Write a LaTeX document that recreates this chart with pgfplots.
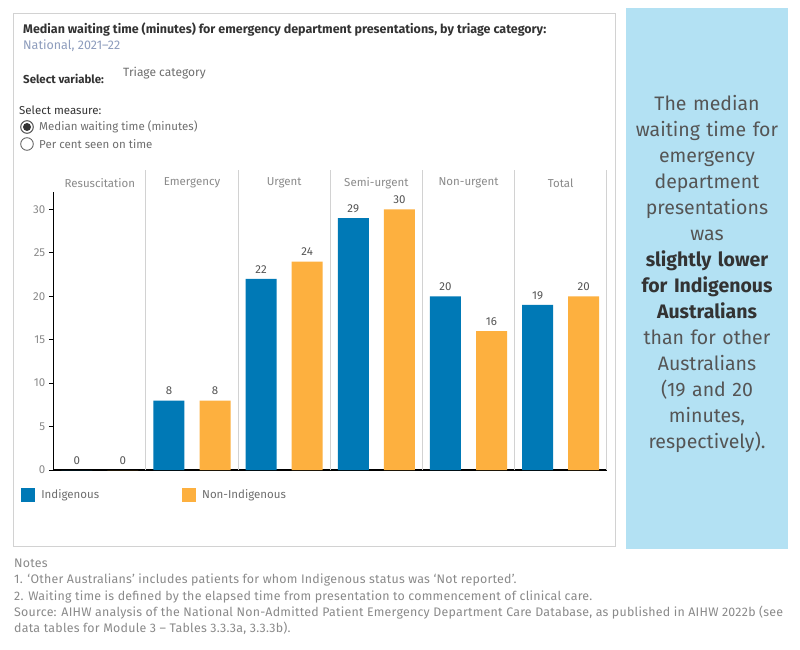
\documentclass[border=0pt]{standalone}
\usepackage{fontspec}
\setmainfont{Fira Sans}
\newfontfamily\notesfont[LetterSpace=2]{Fira Sans}
\usepackage{pgfplots}
\pgfplotsset{compat=1.18}

\definecolor{indig}{HTML}{0079B6}
\definecolor{nonind}{HTML}{FDB03F}
\definecolor{panelblue}{HTML}{B3E1F3}
\definecolor{txtdark}{HTML}{333333}
\definecolor{txtmid}{HTML}{555555}
\definecolor{txtgray}{HTML}{6E6E6E}
\definecolor{ticgray}{HTML}{8A8A8A}
\definecolor{divgray}{HTML}{D2D2D2}
\definecolor{natblue}{HTML}{8E9DBD}

\newcommand{\fs}[1]{\fontsize{#1}{#1}\selectfont}

\begin{document}
\begin{tikzpicture}[x=1pt,y=1pt]
\useasboundingbox (0,0) rectangle (800,-650);
\fill[white] (0,0) rectangle (800,-650);

% frame of the chart panel
\draw[divgray, line width=0.8pt] (13,-13) rectangle (615,-546);

% header texts
\node[anchor=base west, inner sep=0pt, text=txtdark, font=\fs{12.5}\bfseries] at (23,-34)
  {Median waiting time (minutes) for emergency department presentations, by triage category:};
\node[anchor=base west, inner sep=0pt, text=natblue, font=\fs{12.5}] at (23,-50) {National, 2021–22};
\node[anchor=base west, inner sep=0pt, text=txtdark, font=\fs{11.5}\bfseries] at (23,-84) {Select variable:};
\node[anchor=base west, inner sep=0pt, text=txtgray, font=\fs{12}] at (123,-77) {Triage category};
\node[anchor=base west, inner sep=0pt, text=txtdark, font=\fs{11.5}] at (19,-115) {Select measure:};

% radio buttons
\draw[txtmid, line width=1pt] (27,-127) circle (6.3);
\fill[txtdark] (27,-127) circle (4);
\draw[txtmid, line width=0.8pt] (27,-144) circle (6.3);
\node[anchor=base west, inner sep=0pt, text=txtgray, font=\fs{11.5}] at (39,-131) {Median waiting time (minutes)};
\node[anchor=base west, inner sep=0pt, text=txtgray, font=\fs{11.5}] at (39,-148) {Per cent seen on time};

\begin{axis}[
  at={(53.75pt,-470pt)}, anchor=south west,
  scale only axis, width=553pt, height=278pt,
  xmin=0, xmax=12, ymin=0, ymax=32,
  axis x line*=bottom, axis y line*=left,
  x axis line style={-, black, line width=1.4pt},
  y axis line style={-, black, line width=0.9pt},
  xtick=\empty,
  ytick={0,5,...,30},
  tick align=outside, major tick length=5pt,
  ytick style={black, line width=0.9pt},
  /pgf/number format/assume math mode=true,
  yticklabel style={text=ticgray, font=\fs{11.5}},
  ybar, bar width=31pt, bar shift=0pt,
  nodes near coords,
  every node near coord/.append style={text=txtmid, font=\fs{11.5}, anchor=south, yshift=2pt},
  legend columns=2,
  legend style={draw=none, fill=none, inner sep=0pt,
    at={(axis description cs:-0.059,-0.089)}, anchor=west,
    font=\fs{11.5}, text=txtgray,
    /tikz/every odd column/.append style={column sep=4pt},
    /tikz/every even column/.append style={column sep=81pt}},
  legend image code/.code={\fill[#1] (0pt,-7pt) rectangle (14pt,7pt);},
  clip=false,
]
% panel dividers, running up through the header row
\pgfplotsinvokeforeach{2,4,6,8,10,12}{
  \draw[divgray, line width=0.9pt] (axis cs:#1,0) -- ([yshift=22pt]axis cs:#1,32);
}
\addplot[fill=indig, draw=none] coordinates {
  (0.5,0) (2.5,8) (4.5,22) (6.5,29) (8.5,20) (10.5,19)};
\addplot[fill=nonind, draw=none] coordinates {
  (1.5,0) (3.5,8) (5.5,24) (7.5,30) (9.5,16) (11.5,20)};
\legend{Indigenous, Non-Indigenous}

% triage category headers
\node[text=ticgray, font=\fs{11.5}] at ([yshift=9pt]axis cs:1,32) {Resuscitation};
\node[text=ticgray, font=\fs{11.5}] at ([yshift=9pt]axis cs:3,32) {Emergency};
\node[text=ticgray, font=\fs{11.5}] at ([yshift=9pt]axis cs:5,32) {Urgent};
\node[text=ticgray, font=\fs{11.5}] at ([yshift=9pt]axis cs:7,32) {Semi-urgent};
\node[text=ticgray, font=\fs{11.5}] at ([yshift=9pt]axis cs:9,32) {Non-urgent};
\node[text=ticgray, font=\fs{11.5}] at ([yshift=9pt]axis cs:11,32) {Total};
\end{axis}

% commentary panel
\fill[panelblue] (626,-8) rectangle (788,-549);
\node[text width=162pt, align=center, inner sep=0pt, text=txtmid,
      font=\fontsize{19.5}{26}\selectfont] at (707,-274) {%
  The median\\ waiting time for\\ emergency\\ department\\ presentations\\ was\\
  {\color{txtdark}\bfseries slightly lower}\\ {\color{txtdark}\bfseries for Indigenous}\\
  {\color{txtdark}\bfseries Australians}\\ than for other\\ Australians\\ (19 and 20\\
  minutes,\\ respectively).};

% notes and source
\begin{scope}[every node/.style={anchor=base west, inner sep=0pt, text=ticgray, font=\notesfont\fs{12.4}}]
\node at (14,-567) {Notes};
\node at (14,-583) {1. ‘Other Australians’ includes patients for whom Indigenous status was ‘Not reported’.};
\node at (14,-600) {2. Waiting time is defined by the elapsed time from presentation to commencement of clinical care.};
\node at (14,-616) {Source: AIHW analysis of the National Non-Admitted Patient Emergency Department Care Database, as published in AIHW 2022b (see};
\node at (14,-632) {data tables for Module 3 – Tables 3.3.3a, 3.3.3b).};
\end{scope}
\end{tikzpicture}
\end{document}
